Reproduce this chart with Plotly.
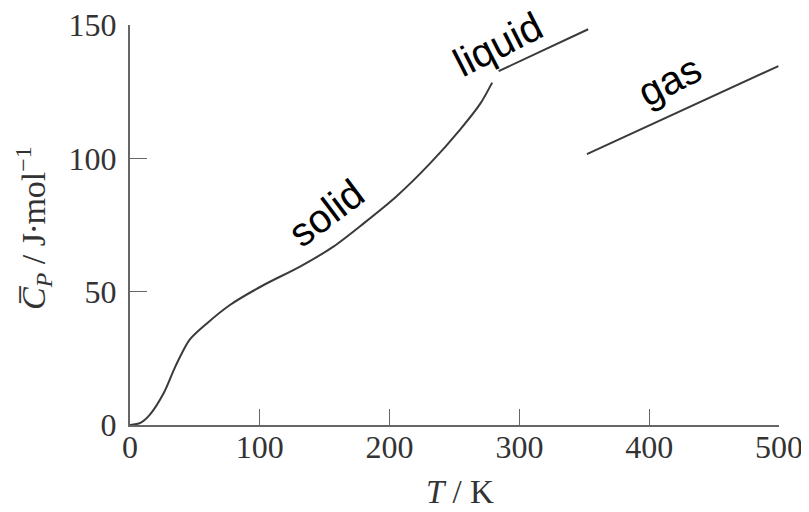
import plotly.graph_objects as go

# Data
T_solid = [0, 8, 15, 26, 35, 46, 59, 77, 103, 131, 157, 180, 205, 231, 254, 270, 279]
Cp_solid = [0, 0.8, 3.7, 12, 22, 32, 38, 45, 52.5, 59.4, 67, 75.6, 85.6, 98, 110.6, 120.6, 128.4]
T_liquid = [284, 353]
Cp_liquid = [132.7, 148.4]
T_gas = [352, 499.5]
Cp_gas = [101.6, 134.6]

x_ticks = [0, 100, 200, 300, 400, 500]
y_ticks = [0, 50, 100, 150]

phase_labels = ["solid", "liquid", "gas"]
label_T = [151, 283.5, 416]
label_Cp = [79.5, 142.9, 129.5]
label_angle = [-37, -27, -27]

line_color = "#3a3a3a"
axis_color = "#666666"
text_color = "#333333"

fig = go.Figure()
fig.add_trace(go.Scatter(x=T_solid, y=Cp_solid, mode="lines",
                         line=dict(color=line_color, width=2, shape="spline", smoothing=0.8),
                         showlegend=False, hoverinfo="skip"))
fig.add_trace(go.Scatter(x=T_liquid, y=Cp_liquid, mode="lines",
                         line=dict(color=line_color, width=2), showlegend=False))
fig.add_trace(go.Scatter(x=T_gas, y=Cp_gas, mode="lines",
                         line=dict(color=line_color, width=2), showlegend=False))

for txt, tx, ty, ang in zip(phase_labels, label_T, label_Cp, label_angle):
    fig.add_annotation(x=tx, y=ty, xref="x", yref="y", text=txt, showarrow=False,
                       textangle=ang, font=dict(family="Liberation Sans, Arial", size=40, color="black"))

serif = "Liberation Serif, Times New Roman, serif"

# axis titles
fig.add_annotation(xref="paper", yref="paper", x=(460 - 130) / 649, y=(425 - 492) / 400,
                   xanchor="center", yanchor="middle",
                   text="<i>T</i> / K", showarrow=False,
                   font=dict(family=serif, size=33, color=text_color))
ytitle = "<i>C\u0305</i><sub><i>P</i></sub> / J\u2219mol<sup>\u22121</sup>"
fig.add_annotation(xref="paper", yref="paper", x=(33 - 130) / 649, y=(425 - 228) / 400,
                   xanchor="center", yanchor="middle",
                   text=ytitle, showarrow=False, textangle=-90,
                   font=dict(family=serif, size=34, color=text_color))

fig.update_layout(
    width=809, height=512,
    margin=dict(l=122, r=38, t=17, b=95),
    plot_bgcolor="white", paper_bgcolor="white",
    xaxis=dict(range=[0, 500], tickvals=x_ticks, ticks="inside", ticklen=16, tickwidth=1,
               tickcolor=axis_color, showline=True, linecolor=axis_color, linewidth=2,
               showgrid=False, zeroline=False, ticklabelstandoff=-7, automargin=False,
               ticklabeloverflow="allow",
               tickfont=dict(family=serif, size=32, color=text_color)),
    yaxis=dict(range=[0, 150], tickvals=y_ticks, ticks="inside", ticklen=17, tickwidth=1,
               tickcolor=axis_color, showline=True, linecolor=axis_color, linewidth=2,
               showgrid=False, zeroline=False, ticklabelstandoff=5, automargin=False,
               ticklabeloverflow="allow",
               tickfont=dict(family=serif, size=32, color=text_color)),
)

fig.write_html("out.html")
